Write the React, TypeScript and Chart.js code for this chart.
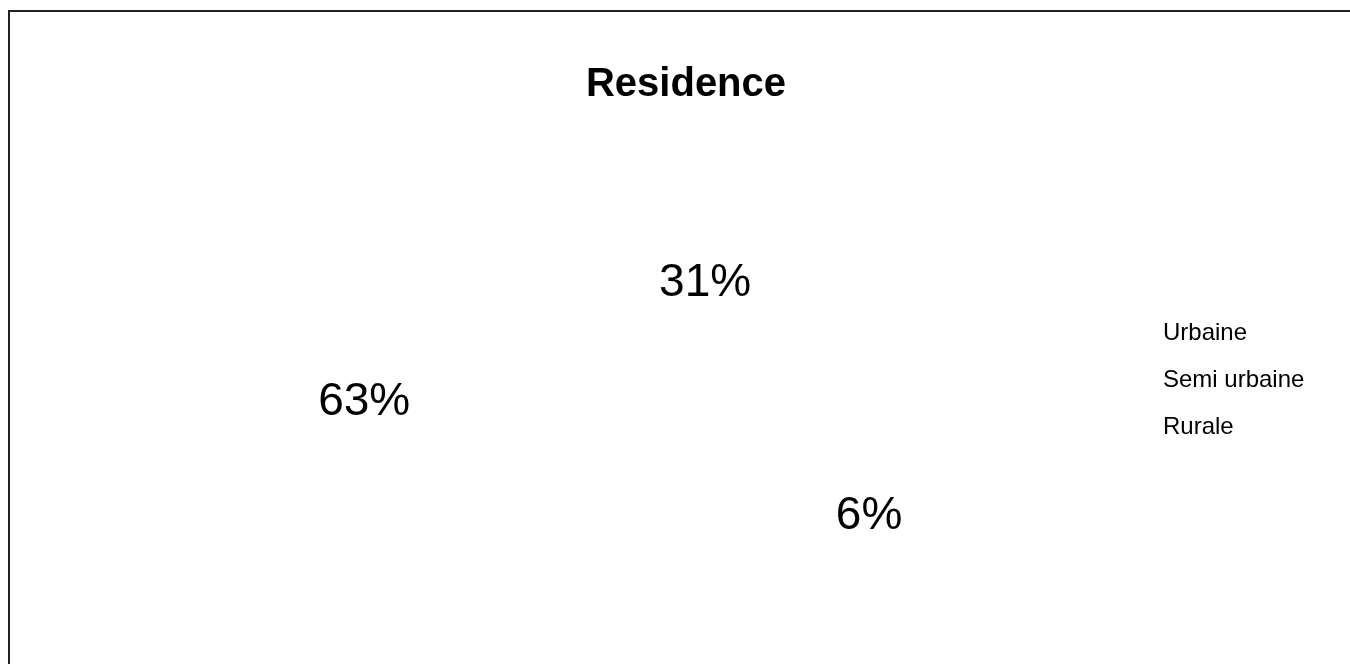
import React, { useEffect, useRef } from "react";
import { Chart, registerables, layouts } from "chart.js";

Chart.register(...registerables);

// ---- data ----
const categories: string[] = ["Urbaine", "Semi urbaine", "Rurale"];
const shares: number[] = [63, 6, 31];
const chartTitle = "Residence";

// ---- style ----
const FONT = "'Liberation Sans', Arial, Helvetica, sans-serif";
// distance of each value label from the pie centre, as a fraction of the radius
const labelRadius: number[] = [1.302, 1.44, 0.394];
const LEFT_GAP = 75.4; // empty room left of the (invisible) pie

export default function App() {
  const canvasRef = useRef<HTMLCanvasElement | null>(null);

  useEffect(() => {
    const canvas = canvasRef.current;
    if (!canvas) return;

    // slices run counter-clockwise from the top in the original, so feed them reversed
    const labels = [...categories].reverse();
    const values = [...shares].reverse();
    const radii = [...labelRadius].reverse();

    const leftSpacer = {
      id: "leftSpacer",
      beforeInit(chart: any) {
        const box: any = {
          position: "left",
          weight: 10,
          fullSize: false,
          options: {},
          left: 0,
          top: 0,
          right: 0,
          bottom: 0,
          width: 0,
          height: 0,
          isHorizontal() {
            return false;
          },
          update(_maxWidth: number, maxHeight: number) {
            this.width = LEFT_GAP;
            this.height = maxHeight;
          },
          draw() {},
          _layers() {
            return [];
          },
        };
        (layouts as any).addBox(chart, box);
      },
    };

    const pieLabels = {
      id: "pieLabels",
      afterDatasetsDraw(chart: any) {
        const ctx = chart.ctx as CanvasRenderingContext2D;
        const meta = chart.getDatasetMeta(0);
        const data = chart.data.datasets[0].data as number[];
        const total = data.reduce((a, b) => a + b, 0);
        ctx.save();
        ctx.font = `46px ${FONT}`;
        ctx.fillStyle = "#000";
        ctx.textAlign = "center";
        ctx.textBaseline = "middle";
        meta.data.forEach((arc: any, i: number) => {
          const { x, y, startAngle, endAngle, outerRadius } = arc.getProps(
            ["x", "y", "startAngle", "endAngle", "outerRadius"],
            true
          );
          const mid = (startAngle + endAngle) / 2;
          const r = outerRadius * radii[i];
          const txt = Math.round((data[i] / total) * 100) + "%";
          ctx.fillText(txt, x + Math.cos(mid) * r, y + Math.sin(mid) * r);
        });
        ctx.restore();
      },
    };

    const chart = new Chart(canvas, {
      type: "pie",
      data: {
        labels,
        datasets: [
          {
            data: values,
            backgroundColor: "rgba(255,255,255,0)",
            borderColor: "rgba(255,255,255,0)",
            borderWidth: 0,
          },
        ],
      },
      options: {
        animation: false,
        responsive: true,
        maintainAspectRatio: false,
        events: [],
        rotation: 6.7,
        layout: { padding: { left: 47.6, right: 35.6, top: 0, bottom: 128.5 } },
        plugins: {
          tooltip: { enabled: false },
          title: {
            display: true,
            text: chartTitle,
            color: "#000",
            font: { size: 40, weight: "bold", family: FONT },
            padding: { top: 48.5, bottom: 0 },
          },
          legend: {
            position: "right",
            reverse: true,
            fullSize: false,
            title: {
              display: true,
              text: "",
              padding: { top: 104, bottom: 0 },
              font: { size: 10, family: FONT },
            },
            labels: {
              boxWidth: 0,
              boxHeight: 24,
              padding: 23,
              color: "#000",
              font: { size: 24, family: FONT },
            },
          },
        },
      },
      plugins: [leftSpacer, pieLabels],
    } as any);

    return () => chart.destroy();
  }, []);

  return (
    <>
      <div
        style={{
          position: "fixed",
          left: 8,
          top: 10,
          width: 2000,
          height: 2000,
          borderTop: "2px solid #222",
          borderLeft: "2px solid #222",
          background: "#fff",
        }}
      />
      <div
        style={{
          position: "fixed",
          left: 10,
          top: 12,
          width: 1340,
          height: 652,
        }}
      >
        <canvas ref={canvasRef} />
      </div>
    </>
  );
}
